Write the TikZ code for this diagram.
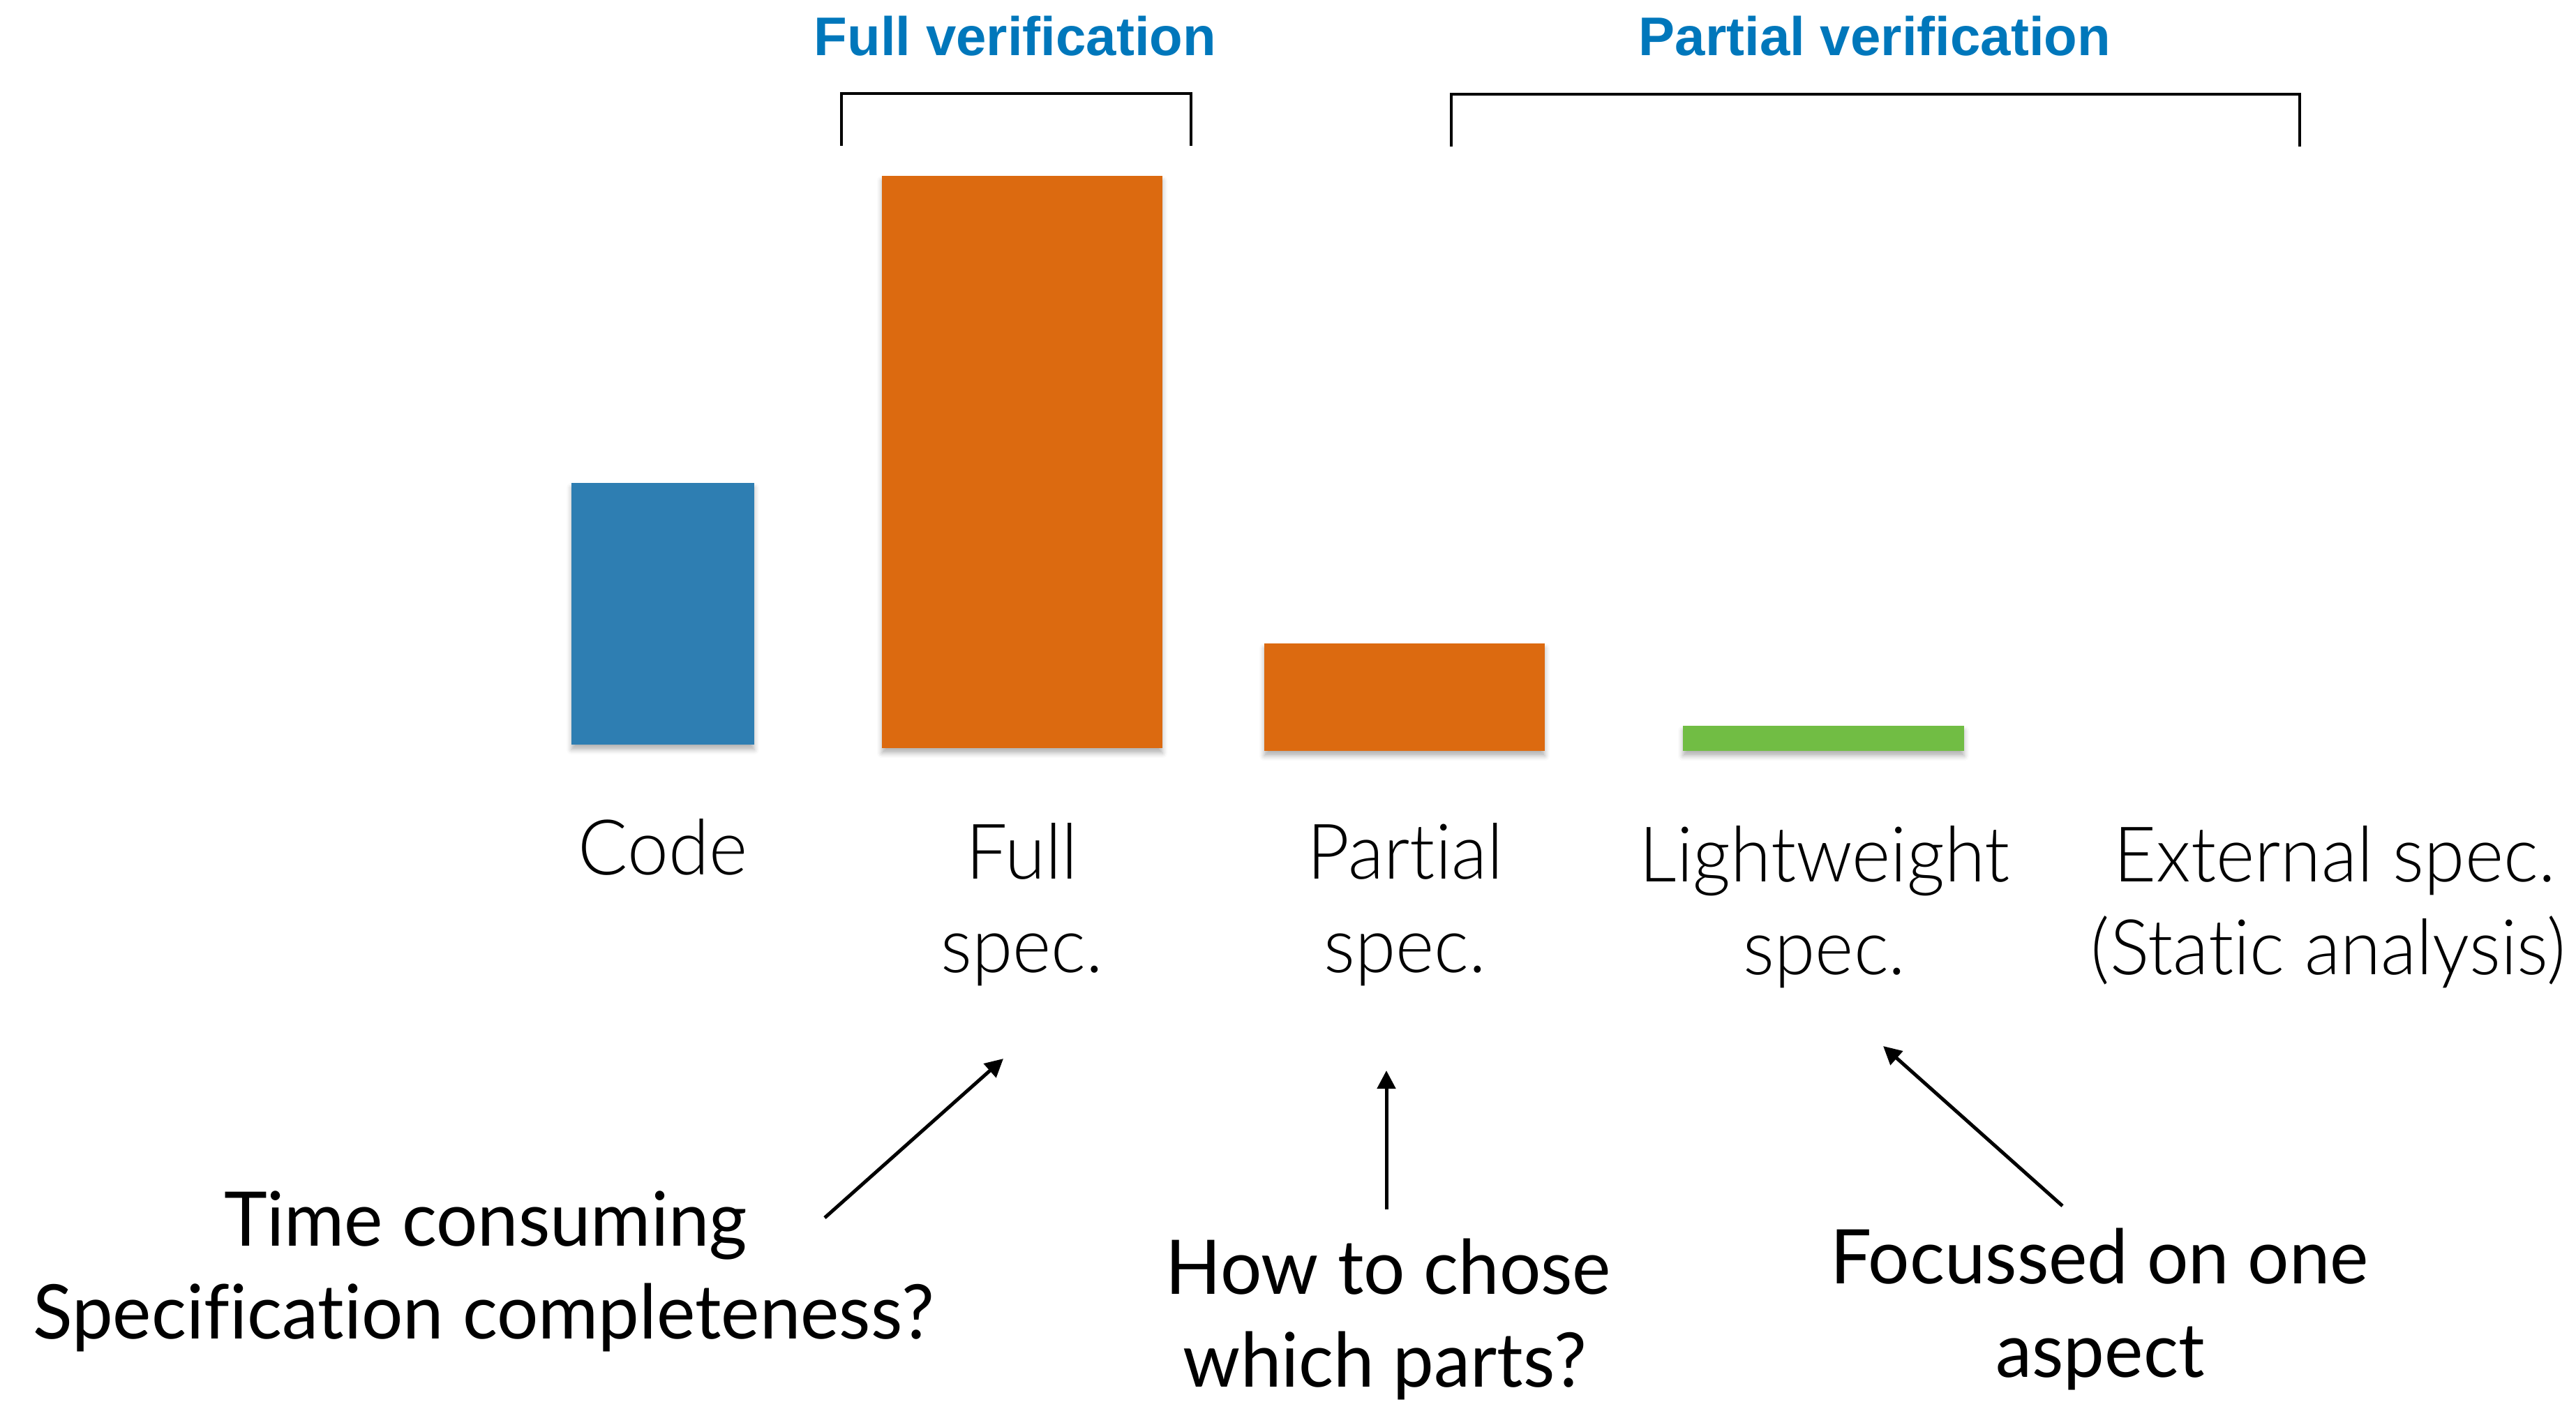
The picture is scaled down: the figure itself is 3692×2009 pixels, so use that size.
\documentclass[tikz,border=0pt]{standalone}
\usepackage{fontspec}
\setmainfont{Lato}[Ligatures={NoCommon}, FakeStretch=0.97]
\newfontfamily\lightfont{Lato Light}[Ligatures={NoCommon}, FakeStretch=0.96]
\newfontfamily\headfont{Liberation Sans}
\usetikzlibrary{arrows.meta,shadows.blur}
\definecolor{codeblue}{HTML}{2E7EB2}
\definecolor{specorange}{HTML}{DC6A10}
\definecolor{lightgreen}{HTML}{71BD44}
\definecolor{headblue}{HTML}{0077BB}
\tikzset{
  bar/.style={rectangle, inner sep=0pt, outer sep=0pt, anchor=north west,
    blur shadow={shadow xshift=0pt, shadow yshift=-7pt, shadow blur radius=7pt, shadow opacity=30}},
  heading/.style={anchor=base, inner sep=0pt, text=headblue, font=\headfont\bfseries\fontsize{78pt}{90pt}\selectfont},
  barlabel/.style={anchor=base, inner sep=0pt, font=\lightfont\fontsize{110pt}{130pt}\selectfont},
  note/.style={anchor=base, inner sep=0pt, font=\fontsize{108pt}{130pt}\selectfont},
  bracket/.style={line width=4pt, line cap=rect},
  pointer/.style={line width=5pt, -{Triangle[length=26pt,width=26pt]}}
}
\begin{document}
\begin{tikzpicture}[x=1pt,y=-1pt]
\useasboundingbox (0,0) rectangle (3692,2009);
% headings
\node[heading] (hfull) at (1455,80) {Full verification};
\node[heading] (hpart) at (2687,80) {Partial verification};
% brackets
\draw[bracket] (1206,207) -- (1206,134) -- (1707,134) -- (1707,207);
\draw[bracket] (2080,208) -- (2080,135) -- (3296,135) -- (3296,208);
% bars
\node[bar, fill=codeblue, minimum width=262pt, minimum height=375pt] (bcode) at (819,692) {};
\node[bar, fill=specorange, minimum width=402pt, minimum height=820pt] (bfull) at (1264,252) {};
\node[bar, fill=specorange, minimum width=402pt, minimum height=154pt] (bpart) at (1812,922) {};
\node[bar, fill=lightgreen, minimum width=403pt, minimum height=36pt] (blight) at (2412,1040) {};
% bar labels
\node[barlabel] (lcode) at (950,1253) {Code};
\node[barlabel] (lfull) at (1465,1259) {Full};
\node[barlabel] (lfull2) at (1465,1393) {spec.};
\node[barlabel] (lpart) at (2014,1259) {Partial};
\node[barlabel] (lpart2) at (2014,1393) {spec.};
\node[barlabel] (llight) at (2615,1263) {Lightweight};
\node[barlabel] (llight2) at (2615,1396) {spec.};
\node[barlabel] (lext) at (3346,1263) {External spec.};
\node[barlabel] (lext2) at (3337,1396) {(Static analysis)};
% notes
\node[note] (ntime) at (696,1785) {Time consuming};
\node[note] (ntime2) at (693,1918) {Specification completeness?};
\node[note] (nhow) at (1990,1854) {How to chose};
\node[note] (nhow2) at (1985,1987) {which parts?};
\node[note] (nfoc) at (3009,1839) {Focussed on one};
\node[note] (nfoc2) at (3010,1973) {aspect};
% arrows
\coordinate (a1s) at (1182,1745);
\coordinate (a1e) at (1438,1517);
\coordinate (a2s) at (1987,1733);
\coordinate (a2e) at (1987,1534);
\coordinate (a3s) at (2956,1728);
\coordinate (a3e) at (2699,1499);
\draw[pointer] (a1s) -- (a1e);
\draw[pointer] (a2s) -- (a2e);
\draw[pointer] (a3s) -- (a3e);
\end{tikzpicture}
\end{document}
